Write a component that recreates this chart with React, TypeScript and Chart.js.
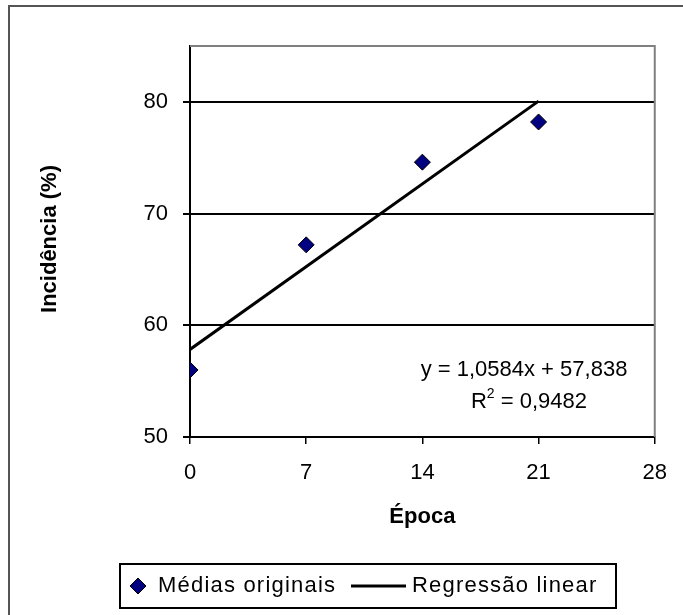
import React, { useEffect, useRef } from 'react';
import { Chart, registerables } from 'chart.js';

Chart.register(...registerables);

// ---- data ----
const epocas = [0, 7, 14, 21];
const medias = [56.0, 67.2, 74.6, 78.2];
const regSlope = 1.0584;
const regIntercept = 57.838;
const regX = [0, 21];
const xTicks = [0, 7, 14, 21, 28];
const yTicks = [50, 60, 70, 80];
const seriesLabels = ['Médias originais', 'Regressão linear'];
const equationText = 'y = 1,0584x + 57,838';
const r2Value = '0,9482';
const xTitle = 'Época';
const yTitle = 'Incidência (%)';

const FONT = '"Liberation Sans", Arial, sans-serif';

const decorPlugin = {
  id: 'decor',
  beforeDraw(chart: any) {
    const ctx = chart.ctx;
    ctx.save();
    ctx.fillStyle = '#ffffff';
    ctx.fillRect(0, 0, chart.width, chart.height);
    ctx.restore();
  },
  afterDraw(chart: any) {
    const ctx = chart.ctx;
    const ca = chart.chartArea;
    ctx.save();
    // outer frame (top & left)
    ctx.strokeStyle = '#555555';
    ctx.lineWidth = 2;
    ctx.beginPath();
    ctx.moveTo(9, chart.height);
    ctx.lineTo(9, 6);
    ctx.lineTo(chart.width, 6);
    ctx.stroke();
    // plot area top/right border
    ctx.strokeStyle = '#808080';
    ctx.lineWidth = 2;
    ctx.beginPath();
    ctx.moveTo(ca.left, ca.top);
    ctx.lineTo(ca.right, ca.top);
    ctx.lineTo(ca.right, ca.bottom);
    ctx.stroke();

    // axis titles
    ctx.fillStyle = '#000';
    ctx.font = `bold 22px ${FONT}`;
    ctx.textAlign = 'center';
    ctx.textBaseline = 'middle';
    ctx.fillText(xTitle, (ca.left + ca.right) / 2, 517);
    ctx.save();
    ctx.translate(50, 239);
    ctx.rotate(-Math.PI / 2);
    ctx.fillText(yTitle, 0, 0);
    ctx.restore();

    // equation
    ctx.font = `22px ${FONT}`;
    ctx.fillText(equationText, 524, 370);
    const rPart = 'R';
    const rest = ' = ' + r2Value;
    const wR = ctx.measureText(rPart).width;
    const wRest = ctx.measureText(rest).width;
    ctx.font = `14px ${FONT}`;
    const wSup = ctx.measureText('2').width;
    const total = wR + wSup + wRest;
    const x0 = 529 - total / 2;
    ctx.textAlign = 'left';
    ctx.font = `22px ${FONT}`;
    ctx.fillText(rPart, x0, 402);
    ctx.font = `14px ${FONT}`;
    ctx.fillText('2', x0 + wR, 394);
    ctx.font = `22px ${FONT}`;
    ctx.fillText(rest, x0 + wR + wSup, 402);

    // legend
    const ly = 586;
    ctx.strokeStyle = '#000';
    ctx.lineWidth = 2;
    ctx.strokeRect(120, 564, 496, 44);
    ctx.beginPath();
    ctx.moveTo(138 - 8, ly);
    ctx.lineTo(138, ly - 8);
    ctx.lineTo(138 + 8, ly);
    ctx.lineTo(138, ly + 8);
    ctx.closePath();
    ctx.fillStyle = '#000080';
    ctx.fill();
    ctx.lineWidth = 1;
    ctx.strokeStyle = '#000';
    ctx.stroke();
    ctx.fillStyle = '#000';
    ctx.textAlign = 'left';
    ctx.textBaseline = 'middle';
    ctx.font = `22px ${FONT}`;
    (ctx as any).letterSpacing = '1.2px';
    ctx.fillText(seriesLabels[0], 158, ly);
    ctx.lineWidth = 3;
    ctx.beginPath();
    ctx.moveTo(351, ly);
    ctx.lineTo(406, ly);
    ctx.stroke();
    ctx.fillText(seriesLabels[1], 412, ly);
    (ctx as any).letterSpacing = '0px';
    ctx.restore();
  },
};

export default function App() {
  const ref = useRef<HTMLCanvasElement>(null);
  useEffect(() => {
    if (!ref.current) return;
    const chart = new Chart(ref.current, {
      type: 'scatter',
      data: {
        datasets: [
          {
            label: seriesLabels[0],
            data: epocas.map((x, i) => ({ x, y: medias[i] })),
            pointStyle: 'rectRot',
            pointRadius: 8,
            backgroundColor: '#000080',
            borderColor: '#000000',
            borderWidth: 1,
            showLine: false,
            order: 0,
          } as any,
          {
            type: 'line',
            label: seriesLabels[1],
            data: regX.map((x) => ({ x, y: regIntercept + regSlope * x })),
            borderColor: '#000000',
            borderWidth: 3,
            pointRadius: 0,
            fill: false,
            order: 1,
          } as any,
        ],
      },
      options: {
        animation: false,
        responsive: false,
        layout: { padding: { top: 46, right: 25, left: 0, bottom: 0 } },
        plugins: { legend: { display: false }, tooltip: { enabled: false } },
        scales: {
          x: {
            type: 'linear',
            min: xTicks[0],
            max: xTicks[xTicks.length - 1],
            afterBuildTicks: (s: any) => {
              s.ticks = xTicks.map((v) => ({ value: v }));
            },
            ticks: {
              color: '#000',
              font: { family: FONT, size: 22 },
              padding: 16,
              maxRotation: 0,
            },
            grid: { drawOnChartArea: false, drawTicks: true, tickLength: 7, color: '#000', lineWidth: 1.5 },
            border: { color: '#000', width: 2 },
            afterFit: (s: any) => {
              s.height = 615 - 437;
            },
          },
          y: {
            type: 'linear',
            min: 50,
            max: 85,
            afterBuildTicks: (s: any) => {
              s.ticks = yTicks.map((v) => ({ value: v }));
            },
            ticks: {
              color: '#000',
              font: { family: FONT, size: 22 },
              padding: 15,
            },
            grid: { color: '#000', lineWidth: 2, tickLength: 7 },
            border: { color: '#000', width: 2 },
            afterFit: (s: any) => {
              s.width = 190;
            },
          },
        },
      },
      plugins: [decorPlugin],
    });
    return () => chart.destroy();
  }, []);
  return (
    <div style={{ position: 'absolute', left: 0, top: 0, width: 683, height: 615 }}>
      <canvas ref={ref} width={683} height={615} style={{ width: 683, height: 615, display: 'block' }} />
    </div>
  );
}
